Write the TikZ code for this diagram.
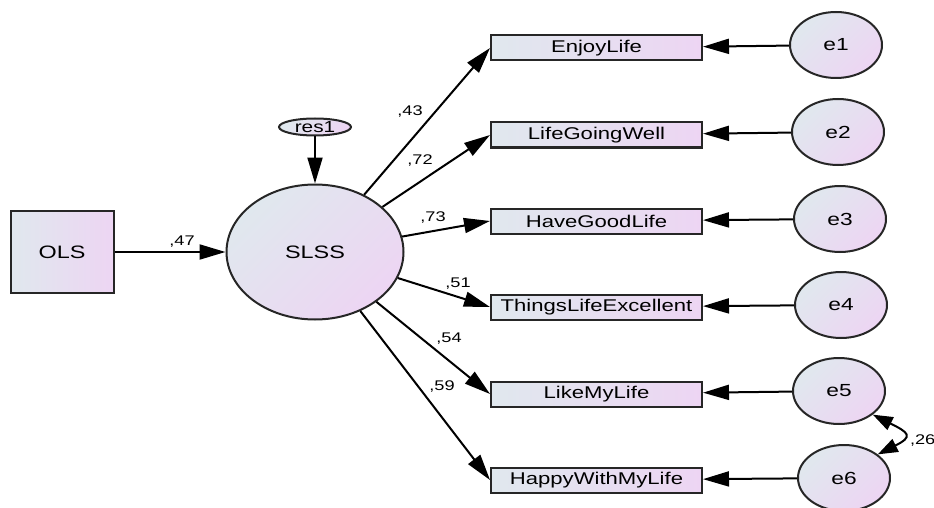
\documentclass[tikz,border=0pt]{standalone}
\usepackage{fontspec}
\setmainfont{Liberation Sans}[FakeStretch=1.3]
\usepackage{tikz}
\usetikzlibrary{arrows.meta,shapes.geometric}

\definecolor{fillA}{RGB}{224,232,238}
\definecolor{fillB}{RGB}{237,213,243}

\begin{document}
\begin{tikzpicture}[x=1pt,y=-1pt,
    line width=2pt,
    shadebox/.style={draw=black!85,left color=fillA,right color=fillB},
    shadeell/.style={draw=black!85,ellipse,inner sep=0pt,top color=fillA,bottom color=fillB,shading angle=45},
    item/.style={shadebox,rectangle,minimum width=211pt,minimum height=25pt,inner sep=0pt,font=\fontsize{17}{18}\selectfont},
    err/.style={shadeell,minimum width=92pt,minimum height=66pt,font=\fontsize{17.5}{18}\selectfont},
    path/.style={-{Triangle[length=26pt,width=15pt]}},
    cov/.style={{Triangle[length=20pt,width=14pt]}-{Triangle[length=20pt,width=14pt]}},
    wt/.style={font=\fontsize{14}{15}\selectfont,inner sep=0pt}]
  \useasboundingbox (0,0) rectangle (934,508);
  % exogenous and latent
  \node[shadebox,rectangle,minimum width=103pt,minimum height=82pt,font=\fontsize{18}{18}\selectfont] (OLS) at (62,252) {OLS};
  \node[shadeell,minimum width=177pt,minimum height=135pt,font=\fontsize{18}{18}\selectfont] (SLSS) at (315,252) {SLSS};
  \node[shadeell,minimum width=72pt,minimum height=17pt,font=\fontsize{16}{16}\selectfont] (res1) at (315,127) {res1};
  % indicators
  \node[item] (EnjoyLife) at (596.5,48) {EnjoyLife};
  \node[item] (LifeGoingWell) at (596.5,135) {LifeGoingWell};
  \node[item] (HaveGoodLife) at (596.5,221) {HaveGoodLife};
  \node[item] (ThingsLifeExcellent) at (596.5,307) {ThingsLifeExcellent};
  \node[item] (LikeMyLife) at (596.5,394) {LikeMyLife};
  \node[item] (HappyWithMyLife) at (596.5,480) {HappyWithMyLife};
  % errors
  \node[err] (e1) at (836,45) {e1};
  \node[err] (e2) at (838,132) {e2};
  \node[err] (e3) at (840,219) {e3};
  \node[err] (e4) at (841,305) {e4};
  \node[err] (e5) at (839,391) {e5};
  \node[err] (e6) at (844,478) {e6};
  % paths
  \draw[path] (OLS) -- (SLSS);
  \draw[path] (res1) -- (SLSS);
  \draw[path] (SLSS) -- (EnjoyLife.west);
  \draw[path] (SLSS) -- (LifeGoingWell.west);
  \draw[path] (SLSS) -- (HaveGoodLife.west);
  \draw[path] (SLSS) -- (ThingsLifeExcellent.west);
  \draw[path] (SLSS) -- (LikeMyLife.west);
  \draw[path] (SLSS) -- (HappyWithMyLife.west);
  \draw[path] (e1) -- (EnjoyLife);
  \draw[path] (e2) -- (LifeGoingWell);
  \draw[path] (e3) -- (HaveGoodLife);
  \draw[path] (e4) -- (ThingsLifeExcellent);
  \draw[path] (e5) -- (LikeMyLife);
  \draw[path] (e6) -- (HappyWithMyLife);
  \draw[cov] (e5.-35) .. controls +(36,18) and +(36,-18) .. (e6.35);
  % weights
  \node[wt] (w0) at (182,242) {,47};
  \node[wt] (w1) at (410,112) {,43};
  \node[wt] (w2) at (420,161) {,72};
  \node[wt] (w3) at (433,218) {,73};
  \node[wt] (w4) at (458,284) {,51};
  \node[wt] (w5) at (449,339) {,54};
  \node[wt] (w6) at (442,387) {,59};
  \node[wt,anchor=west] (w7) at (909,441) {,26};
\end{tikzpicture}
\end{document}
